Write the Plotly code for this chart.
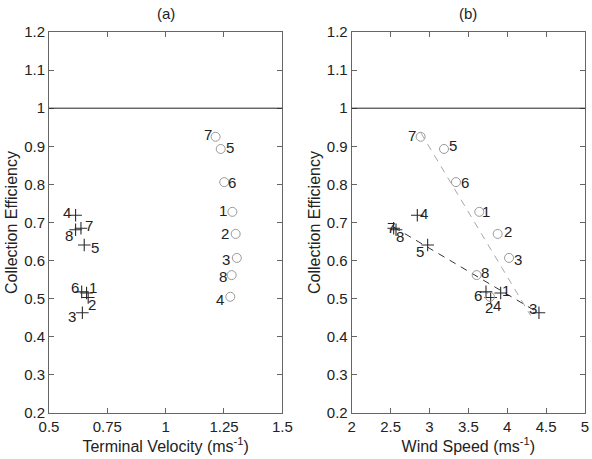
import plotly.graph_objects as go

# ---------------- data ----------------
labels = ["1", "2", "3", "4", "5", "6", "7", "8"]

# crosses (+)
eff_plus = [0.515, 0.503, 0.463, 0.719, 0.641, 0.518, 0.685, 0.681]
vt_plus = [0.661, 0.668, 0.643, 0.614, 0.651, 0.640, 0.637, 0.614]
ws_plus = [3.916, 3.787, 4.408, 2.844, 2.977, 3.727, 2.540, 2.570]

# circles (o)
eff_circ = [0.728, 0.670, 0.607, 0.505, 0.893, 0.806, 0.925, 0.562]
vt_circ = [1.286, 1.300, 1.305, 1.277, 1.236, 1.251, 1.214, 1.283]
ws_circ = [3.641, 3.877, 4.023, 3.778, 3.187, 3.341, 2.887, 3.607]

# dashed trend lines in panel (b)
trend_plus_x = [2.54, 4.41]
trend_plus_y = [0.688, 0.462]
trend_circ_x = [2.89, 4.30]
trend_circ_y = [0.935, 0.456]

xa_ticks = [0.5, 0.75, 1, 1.25, 1.5]
xa_ticktext = ["0.5", "0.75", "1", "1.25", "1.5"]
xb_ticks = [2, 2.5, 3, 3.5, 4, 4.5, 5]
xb_ticktext = ["2", "2.5", "3", "3.5", "4", "4.5", "5"]
y_ticks = [0.2, 0.3, 0.4, 0.5, 0.6, 0.7, 0.8, 0.9, 1, 1.1, 1.2]
y_ticktext = ["0.2", "0.3", "0.4", "0.5", "0.6", "0.7", "0.8", "0.9", "1", "1.1", "1.2"]

# label offsets in pixels (dx right, dy down) -- style only
off_a_plus = [(6, -5), (4, 7), (-10, 4), (-9, -3), (11, 3), (-7, -4), (8, -3), (-7, 6)]
off_a_circ = [(-9, -1), (-11, 0), (-11, 2), (-10, 3), (9, -1), (8, 0), (-8, -2), (-9, 1)]
off_b_plus = [(5, -2), (-2, 10), (-6, -4), (7, -2), (-8, 7), (-8, 4), (-3, -1), (4, 7)]
off_b_circ = [(7, 0), (10, -2), (9, 2), (7, 9), (9, -3), (9, 0), (-9, -1), (8, -3)]

FONT = "Liberation Sans, Arial, sans-serif"
PLUS_COLOR = "#2a2a2a"
CIRC_COLOR = "#9a9a9a"

fig = go.Figure()

plus_marker = dict(symbol="cross-thin", size=9, line=dict(width=1.1, color=PLUS_COLOR), color=PLUS_COLOR)
circ_marker = dict(symbol="circle-open", size=9, line=dict(width=1, color=CIRC_COLOR), color=CIRC_COLOR)

fig.add_trace(go.Scatter(x=trend_circ_x, y=trend_circ_y, mode="lines", xaxis="x2", yaxis="y2",
                         line=dict(color="#a8a8a8", width=1, dash="7px,6px"), showlegend=False))
fig.add_trace(go.Scatter(x=trend_plus_x, y=trend_plus_y, mode="lines", xaxis="x2", yaxis="y2",
                         line=dict(color="#333333", width=1, dash="7px,6px"), showlegend=False))

fig.add_trace(go.Scatter(x=vt_plus, y=eff_plus, mode="markers", marker=plus_marker,
                         xaxis="x", yaxis="y", showlegend=False))
fig.add_trace(go.Scatter(x=vt_circ, y=eff_circ, mode="markers", marker=circ_marker,
                         xaxis="x", yaxis="y", showlegend=False))
fig.add_trace(go.Scatter(x=ws_plus, y=eff_plus, mode="markers", marker=plus_marker,
                         xaxis="x2", yaxis="y2", showlegend=False))
fig.add_trace(go.Scatter(x=ws_circ, y=eff_circ, mode="markers", marker=circ_marker,
                         xaxis="x2", yaxis="y2", showlegend=False))

annotations = []


def add_labels(xs, ys, offs, xref, yref):
    for lab, x, y, (dx, dy) in zip(labels, xs, ys, offs):
        annotations.append(dict(x=x, y=y, xref=xref, yref=yref, text=lab, showarrow=False,
                                xshift=dx, yshift=-dy, font=dict(family=FONT, size=15, color="#222222")))


add_labels(vt_plus, eff_plus, off_a_plus, "x", "y")
add_labels(vt_circ, eff_circ, off_a_circ, "x", "y")
add_labels(ws_plus, eff_plus, off_b_plus, "x2", "y2")
add_labels(ws_circ, eff_circ, off_b_circ, "x2", "y2")

annotations.append(dict(x=0.5, y=1, xref="x domain", yref="paper", yanchor="bottom", yshift=8,
                        text="(a)", showarrow=False, font=dict(family=FONT, size=15, color="#222222")))
annotations.append(dict(x=0.5, y=1, xref="x2 domain", yref="paper", yanchor="bottom", yshift=8,
                        text="(b)", showarrow=False, font=dict(family=FONT, size=15, color="#222222")))

shapes = [
    dict(type="line", xref="x domain", yref="y", x0=0, x1=1, y0=1, y1=1, line=dict(color="#222222", width=1)),
    dict(type="line", xref="x2 domain", yref="y2", x0=0, x1=1, y0=1, y1=1, line=dict(color="#222222", width=1)),
]

axis_common = dict(showline=True, linecolor="#666666", linewidth=1, mirror="ticks", ticks="inside",
                   ticklen=5, tickcolor="#666666", showgrid=False, zeroline=False, automargin=False,
                   tickfont=dict(family=FONT, size=15, color="#222222"))

fig.update_layout(
    template="none",
    width=592, height=459,
    margin=dict(l=49, r=7, t=32, b=46),
    paper_bgcolor="white", plot_bgcolor="white",
    font=dict(family=FONT, size=15, color="#222222"),
    xaxis=dict(domain=[0, 0.4353], range=[0.5, 1.5], tickvals=xa_ticks, ticktext=xa_ticktext,
               title=dict(text="Terminal Velocity (ms<sup>-1</sup>)", standoff=4,
                          font=dict(family=FONT, size=16)), anchor="y", **axis_common),
    yaxis=dict(domain=[0, 1], range=[0.2, 1.2], tickvals=y_ticks, ticktext=y_ticktext,
               title=dict(text="Collection Efficiency", standoff=2, font=dict(family=FONT, size=16)),
               anchor="x", **axis_common),
    xaxis2=dict(domain=[0.5647, 1], range=[2, 5], tickvals=xb_ticks, ticktext=xb_ticktext,
                title=dict(text="Wind Speed (ms<sup>-1</sup>)", standoff=4, font=dict(family=FONT, size=16)),
                anchor="y2", **axis_common),
    yaxis2=dict(domain=[0, 1], range=[0.2, 1.2], tickvals=y_ticks, ticktext=y_ticktext,
                title=dict(text="Collection Efficiency", standoff=2, font=dict(family=FONT, size=16)),
                anchor="x2", **axis_common),
    annotations=annotations,
    shapes=shapes,
)

fig.write_html("out.html")
